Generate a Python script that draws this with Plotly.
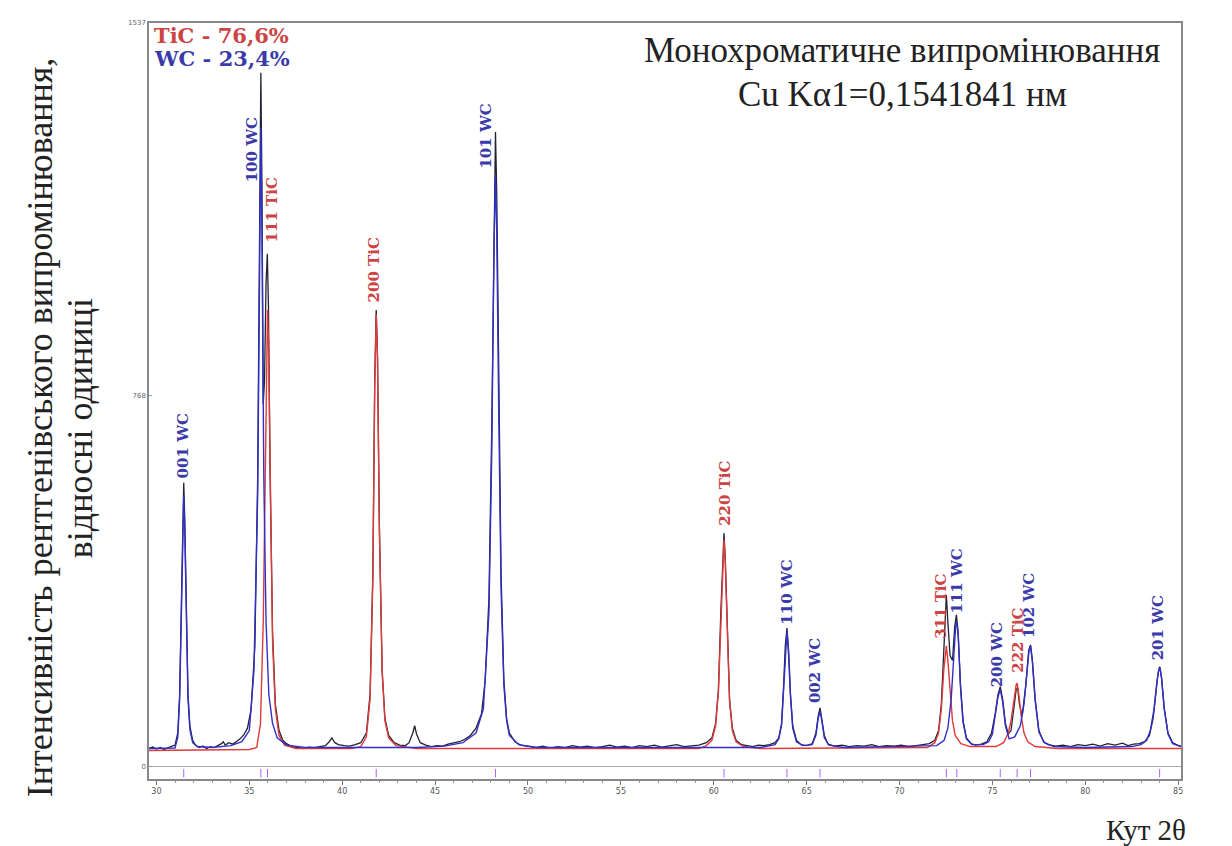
import plotly.graph_objects as go

# ---------------- data ----------------
obs_x = [29.6, 29.8, 30.0, 30.2, 30.4, 30.6, 30.8, 31.0, 31.15, 31.25, 31.35, 31.42, 31.47, 31.52, 31.6, 31.7, 31.8, 31.95,
         32.1, 32.3, 32.5, 32.7, 32.9, 33.1, 33.3, 33.5, 33.6, 33.7, 33.9, 34.1, 34.3, 34.5, 34.7, 34.9, 35.1, 35.3, 35.45,
         35.55, 35.62, 35.68, 35.75, 35.82, 35.9, 35.97, 36.03, 36.12, 36.25, 36.4, 36.6, 36.8, 37.0, 37.3, 37.6, 37.9,
         38.2, 38.5, 38.8, 39.1, 39.3, 39.45, 39.6, 39.8, 40.1, 40.4, 40.7, 41.0, 41.3, 41.5, 41.65, 41.75, 41.83, 41.9,
         42.0, 42.15, 42.3, 42.5, 42.8, 43.1, 43.4, 43.6, 43.8, 43.9, 44.0, 44.2, 44.5, 44.8, 45.1, 45.4, 45.7, 46.0, 46.3,
         46.6, 46.9, 47.2, 47.5, 47.7, 47.9, 48.05, 48.17, 48.25, 48.32, 48.42, 48.55, 48.7, 48.85, 49.0, 49.3, 49.6, 50.0,
         50.4, 50.8, 51.2, 51.6, 52.0, 52.4, 52.8, 53.2, 53.6, 54.0, 54.4, 54.8, 55.2, 55.6, 56.0, 56.4, 56.8, 57.2, 57.6,
         58.0, 58.4, 58.8, 59.2, 59.6, 59.9, 60.1, 60.25, 60.38, 60.48, 60.55, 60.62, 60.72, 60.85, 61.0, 61.2, 61.5, 61.8,
         62.1, 62.4, 62.7, 63.0, 63.3, 63.5, 63.65, 63.75, 63.85, 63.94, 64.03, 64.13, 64.25, 64.45, 64.7, 65.0, 65.3, 65.5,
         65.62, 65.72, 65.82, 65.95, 66.15, 66.5, 66.9, 67.3, 67.7, 68.1, 68.5, 68.9, 69.3, 69.7, 70.1, 70.5, 70.9, 71.3,
         71.6, 71.9, 72.1, 72.25, 72.38, 72.47, 72.52, 72.6, 72.72, 72.85, 72.97, 73.06, 73.15, 73.28, 73.42, 73.6, 73.85,
         74.1, 74.4, 74.7, 74.95, 75.15, 75.3, 75.42, 75.55, 75.7, 75.85, 76.0, 76.15, 76.28, 76.36, 76.45, 76.6, 76.8,
         76.95, 77.05, 77.15, 77.3, 77.5, 77.75, 78.0, 78.4, 78.8, 79.2, 79.6, 80.0, 80.4, 80.8, 81.2, 81.6, 82.0, 82.3,
         82.6, 82.9, 83.2, 83.45, 83.65, 83.8, 83.92, 84.0, 84.1, 84.25, 84.45, 84.7, 84.95, 85.15]
obs_y = [38, 41, 37, 40, 36, 39, 42, 45, 70, 150, 350, 530, 587, 520, 320, 150, 85, 55,
         45, 40, 43, 38, 42, 40, 44, 48, 52, 45, 50, 47, 52, 58, 66, 80, 120, 250, 600,
         1150, 1434, 1200, 750, 800, 1000, 1060, 950, 600, 280, 130, 75, 55, 48, 42, 40, 38,
         41, 40, 42, 44, 52, 60, 50, 46, 44, 43, 46, 50, 70, 150, 400, 800, 944, 850,
         500, 200, 100, 65, 50, 45, 44, 50, 70, 85, 68, 50, 45, 42, 44, 43, 47, 49, 52,
         57, 65, 80, 110, 180, 350, 700, 1150, 1312, 1180, 800, 400, 180, 100, 70, 52, 45, 42,
         40, 43, 39, 42, 40, 44, 41, 43, 40, 42, 45, 41, 43, 40, 44, 42, 45, 41, 43,
         46, 42, 44, 45, 50, 60, 90, 160, 320, 440, 483, 430, 290, 140, 80, 55, 46, 44,
         42, 45, 44, 46, 50, 60, 90, 160, 250, 287, 240, 150, 85, 55, 46, 44, 48, 70,
         105, 122, 100, 65, 47, 43, 45, 42, 44, 43, 46, 42, 44, 43, 45, 42, 44, 46,
         48, 55, 75, 130, 250, 340, 355, 300, 230, 220, 290, 314, 280, 170, 95, 60, 48,
         45, 47, 52, 70, 110, 150, 166, 140, 90, 68, 75, 120, 160, 163, 130, 105, 170,
         240, 252, 220, 140, 75, 52, 46, 43, 45, 42, 46, 44, 47, 43, 48, 45, 49, 44,
         47, 48, 52, 65, 100, 150, 195, 207, 185, 120, 70, 50, 45, 43]

wc_x = [29.6, 31.0, 31.15, 31.25, 31.35, 31.42, 31.47, 31.52, 31.6, 31.7, 31.8, 31.95, 32.2, 33.0, 34.0, 34.6, 35.0,
        35.25, 35.45, 35.55, 35.62, 35.68, 35.78, 35.9, 36.05, 36.25, 36.5, 37.0, 38.0, 44.0, 45.5, 46.5, 47.2, 47.6,
        47.9, 48.05, 48.17, 48.25, 48.32, 48.42, 48.55, 48.7, 48.85, 49.0, 49.5, 50.5, 62.5, 63.3, 63.5, 63.65, 63.75,
        63.85, 63.94, 64.03, 64.13, 64.25, 64.45, 64.8, 65.3, 65.5, 65.62, 65.72, 65.82, 65.95, 66.2, 67.0, 72.0, 72.4,
        72.6, 72.78, 72.92, 73.02, 73.08, 73.16, 73.28, 73.42, 73.6, 73.9, 74.5, 74.8, 75.0, 75.15, 75.3, 75.42, 75.55,
        75.7, 75.9, 76.2, 76.5, 76.7, 76.85, 76.97, 77.05, 77.15, 77.3, 77.5, 77.8, 78.3, 80.0, 82.5, 83.0, 83.3, 83.5,
        83.7, 83.85, 83.95, 84.02, 84.1, 84.25, 84.45, 84.7, 85.15]
wc_y = [38, 39, 62, 140, 330, 510, 560, 500, 310, 140, 78, 50, 42, 40, 44, 52, 75,
        200, 560, 1080, 1320, 1100, 600, 300, 150, 90, 60, 45, 40, 40, 43, 50, 70, 120,
        320, 650, 1080, 1220, 1100, 750, 370, 170, 95, 65, 46, 40, 40, 46, 58, 86, 150,
        240, 280, 230, 145, 80, 52, 44, 46, 66, 100, 115, 95, 60, 45, 40, 44, 55,
        80, 140, 240, 290, 300, 270, 165, 92, 58, 46, 46, 52, 68, 105, 145, 160, 135,
        85, 58, 62, 85, 130, 195, 240, 250, 218, 138, 72, 50, 42, 40, 42, 46, 55, 75,
        120, 175, 200, 205, 185, 120, 68, 48, 42]

tic_x = [29.6, 35.0, 35.4, 35.6, 35.75, 35.87, 35.95, 35.98, 36.03, 36.12, 36.25, 36.4, 36.6, 36.9, 37.5, 40.5, 41.0,
         41.3, 41.5, 41.65, 41.75, 41.83, 41.9, 42.0, 42.15, 42.3, 42.5, 42.9, 44.0, 59.2, 59.6, 59.9, 60.1, 60.25,
         60.38, 60.48, 60.55, 60.62, 60.72, 60.85, 61.0, 61.2, 61.6, 62.5, 71.5, 71.9, 72.1, 72.25, 72.38, 72.47, 72.52,
         72.6, 72.72, 72.85, 73.0, 73.3, 73.8, 75.2, 75.6, 75.85, 76.0, 76.15, 76.28, 76.33, 76.42, 76.55, 76.7, 76.9,
         77.3, 78.5, 85.15]
tic_y = [34, 36, 40, 90, 300, 700, 930, 944, 880, 580, 260, 120, 65, 45, 38, 38, 42,
         62, 140, 390, 780, 935, 840, 490, 195, 95, 60, 44, 38, 38, 44, 55, 85, 155,
         310, 430, 470, 420, 280, 135, 75, 52, 42, 38, 40, 50, 70, 120, 200, 245, 250,
         220, 150, 95, 65, 48, 42, 42, 50, 70, 95, 140, 170, 173, 150, 105, 70, 52,
         42, 38, 38]

# reflection labels
wc_peaks = [31.47, 35.62, 48.25, 63.94, 65.72, 73.08, 75.42, 77.05, 84.0]
wc_hkl = ["001 WC", "100 WC", "101 WC", "110 WC", "002 WC", "111 WC", "200 WC", "102 WC", "201 WC"]
tic_peaks = [35.98, 41.83, 60.55, 72.52, 76.33]
tic_hkl = ["111 TiC", "200 TiC", "220 TiC", "311 TiC", "222 TiC"]

phase_names = ["TiC", "WC"]
phase_share = ["76,6%", "23,4%"]

y_ticks = [0, 768, 1537]
x_ticks = [30, 35, 40, 45, 50, 55, 60, 65, 70, 75, 80, 85]

# ---------------- layout / style (not data) ----------------
BLUE = "#3030c8"
RED = "#e03a3a"
BLUE_T = "#3a3aa8"
RED_T = "#cc4444"

# label centres (x, y in data units) for each hkl label
wc_lab_pos = [(31.45, 663), (35.12, 1275), (47.73, 1304), (63.94, 362), (65.45, 198),
              (73.12, 384), (75.26, 231), (76.93, 333), (83.93, 287)]
tic_lab_pos = [(36.2, 1151), (41.69, 1027), (60.6, 566), (72.24, 331), (76.36, 262)]

fig = go.Figure()

fig.add_trace(go.Scatter(x=obs_x, y=obs_y, mode="lines",
                         line=dict(color="#222233", width=1.3), showlegend=False, hoverinfo="skip"))
fig.add_trace(go.Scatter(x=tic_x, y=tic_y, mode="lines",
                         line=dict(color=RED, width=1.4), showlegend=False, hoverinfo="skip"))
fig.add_trace(go.Scatter(x=wc_x, y=wc_y, mode="lines",
                         line=dict(color=BLUE, width=1.4), showlegend=False, hoverinfo="skip"))

# reflection position markers in the strip under zero
all_peaks = sorted(wc_peaks + tic_peaks)
fig.add_trace(go.Scatter(x=all_peaks, y=[-13] * len(all_peaks), mode="markers",
                         marker=dict(symbol="line-ns-open", size=6, line=dict(color="#888", width=1)),
                         showlegend=False, hoverinfo="skip"))

ann = []
lab_font = "DejaVu Serif"
for txt, (px, py) in zip(wc_hkl, wc_lab_pos):
    ann.append(dict(x=px, y=py, xref="x", yref="y", text="<b>%s</b>" % txt, showarrow=False,
                    textangle=-90, xanchor="center", yanchor="middle",
                    font=dict(family=lab_font, size=15, color=BLUE_T)))
for txt, (px, py) in zip(tic_hkl, tic_lab_pos):
    ann.append(dict(x=px, y=py, xref="x", yref="y", text="<b>%s</b>" % txt, showarrow=False,
                    textangle=-90, xanchor="center", yanchor="middle",
                    font=dict(family=lab_font, size=15, color=RED_T)))

# phase composition
ann.append(dict(x=0.003, y=0.984, xref="paper", yref="paper", showarrow=False,
                text="<b>%s - %s</b>" % (phase_names[0], phase_share[0]), xanchor="left", yanchor="middle",
                font=dict(family=lab_font, size=21, color=RED_T)))
ann.append(dict(x=0.003, y=0.953, xref="paper", yref="paper", showarrow=False,
                text="<b>%s - %s</b>" % (phase_names[1], phase_share[1]), xanchor="left", yanchor="middle",
                font=dict(family=lab_font, size=21, color=BLUE_T)))

serif = "Liberation Serif"
ann.append(dict(x=0.7297, y=0.963, xref="paper", yref="paper", showarrow=False,
                text="Монохроматичне випромінювання", xanchor="center", yanchor="middle",
                font=dict(family=serif, size=35, color="#222")))
ann.append(dict(x=0.7297, y=0.906, xref="paper", yref="paper", showarrow=False,
                text="Cu Kα1=0,1541841 нм", xanchor="center", yanchor="middle",
                font=dict(family=serif, size=35, color="#222")))

# axis titles
ann.append(dict(x=-0.1056, y=0.464, xref="paper", yref="paper", showarrow=False, textangle=-90,
                text="Інтенсивність рентгенівського випромінювання,", xanchor="center", yanchor="middle",
                font=dict(family=serif, size=36, color="#222")))
ann.append(dict(x=-0.0669, y=0.464, xref="paper", yref="paper", showarrow=False, textangle=-90,
                text="відносні одиниці", xanchor="center", yanchor="middle",
                font=dict(family=serif, size=36, color="#222")))
ann.append(dict(x=0.966, y=-0.0675, xref="paper", yref="paper", showarrow=False,
                text="Кут 2θ", xanchor="center", yanchor="middle",
                font=dict(family=serif, size=29, color="#222")))

fig.update_layout(
    width=1232, height=846,
    margin=dict(l=149, r=51, t=23, b=67),
    paper_bgcolor="white", plot_bgcolor="white",
    annotations=ann,
    xaxis=dict(range=[29.6, 85.15], tickvals=x_ticks, ticktext=[str(v) for v in x_ticks],
               ticks="outside", ticklen=4, tickcolor="#777", showgrid=False, zeroline=False,
               showline=True, linecolor="#888", linewidth=1.5, mirror=True,
               minor=dict(dtick=1, ticks="outside", ticklen=2, tickcolor="#999"),
               tickfont=dict(family="DejaVu Sans", size=8, color="#555")),
    yaxis=dict(range=[-25, 1537], tickvals=y_ticks, ticktext=[str(v) for v in y_ticks],
               ticks="inside", ticklen=3, tickcolor="#999", showgrid=False,
               zeroline=True, zerolinecolor="#aaa", zerolinewidth=1,
               showline=True, linecolor="#888", linewidth=1.5, mirror=True,
               tickfont=dict(family="DejaVu Sans", size=7, color="#666")),
)

fig.write_html("out.html")
